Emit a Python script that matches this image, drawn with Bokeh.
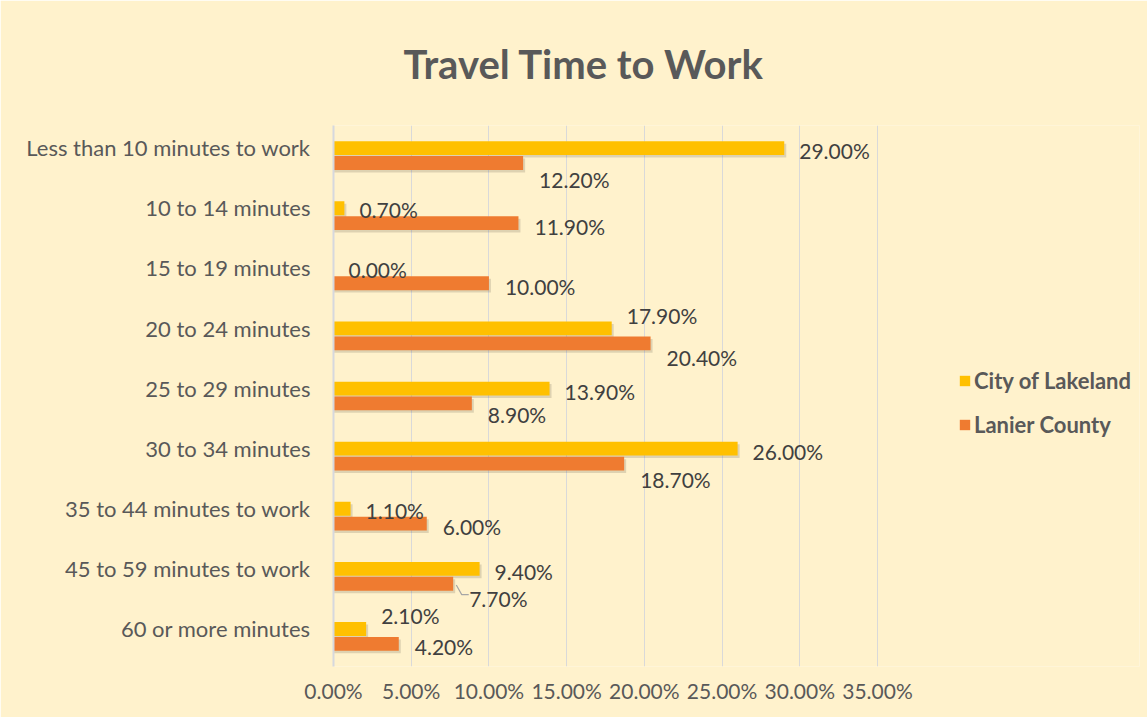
from bokeh.plotting import figure
from bokeh.models import (ColumnDataSource, Legend, LegendItem, FixedTicker,
                          PrintfTickFormatter, Range1d)
from bokeh.core.properties import value
from bokeh.embed import file_html
from bokeh.resources import INLINE

categories = ["Less than 10 minutes to work", "10 to 14 minutes", "15 to 19 minutes",
              "20 to 24 minutes", "25 to 29 minutes", "30 to 34 minutes",
              "35 to 44 minutes to work", "45 to 59 minutes to work", "60 or more minutes"]
lakeland = [29.0, 0.7, 0.0, 17.9, 13.9, 26.0, 1.1, 9.4, 2.1]
lanier = [12.2, 11.9, 10.0, 20.4, 8.9, 18.7, 6.0, 7.7, 4.2]
x_ticks = [0, 5, 10, 15, 20, 25, 30, 35]

# label vertical nudges (pixels, positive = down) imitating Excel's label placement
lak_nudge = [-5, -6, -6, -21, -5, -5, -6, -5, -21]
lan_nudge = [24, 11, 11, 22, 19, 24, 10, 22, 10]

FONT = "Lato"
BG = "#FFF2CC"
W, H = 1147, 717
LEFT, RIGHT_PAD, TOP, BOTTOM = 333, 8, 120, 51
AXIS_PX = 544            # pixel width of the 0..35 % scale
FRAME_W = W - LEFT - RIGHT_PAD
X_MAX = x_ticks[-1]
X_END = X_MAX * FRAME_W / AXIS_PX
ROW_PX = (H - TOP - BOTTOM) / len(categories)
PX_X = X_MAX / AXIS_PX   # data units per pixel (x)

n = len(categories)
ypos = [n - 1 - i for i in range(n)]
OFF = 0.124
BH = 0.23
SH_DX, SH_DY = 2 * PX_X, 2.5 / ROW_PX
LABEL_LIFT = 0.13        # category labels sit slightly above the bar pair centre

src = ColumnDataSource(dict(
    y=ypos,
    y_lak=[y + OFF for y in ypos],
    y_lan=[y - OFF for y in ypos],
    y_lak_sh=[y + OFF - SH_DY for y in ypos],
    y_lan_sh=[y - OFF - SH_DY for y in ypos],
    lak=lakeland, lan=lanier,
    lak_sh=[v + SH_DX if v > 0 else 0 for v in lakeland],
    lan_sh=[v + SH_DX if v > 0 else 0 for v in lanier],
    lak_txt=["%.2f%%" % v for v in lakeland],
    lan_txt=["%.2f%%" % v for v in lanier],
    lak_ly=[y - d / ROW_PX for y, d in zip(ypos, lak_nudge)],
    lan_ly=[y - d / ROW_PX for y, d in zip(ypos, lan_nudge)],
))

p = figure(width=W, height=H, output_backend="svg", toolbar_location=None,
           x_range=Range1d(0, X_END), y_range=Range1d(-0.5, n - 0.5),
           min_border_left=LEFT, min_border_right=RIGHT_PAD, min_border_top=TOP,
           min_border_bottom=BOTTOM)
p.background_fill_color = BG
p.border_fill_color = BG
p.outline_line_color = None

p.title.text = "Travel Time to Work"
p.title.align = "left"
p.title.offset = 70
p.title.text_font = FONT
p.title.text_font_size = "40px"
p.title.text_font_style = "bold"
p.title.text_color = "#595959"
p.title.standoff = 75

# soft shadows under the bars
p.hbar(y="y_lak_sh", right="lak_sh", left=0, height=BH, source=src,
       fill_color="#000000", fill_alpha=0.13, line_color=None)
p.hbar(y="y_lan_sh", right="lan_sh", left=0, height=BH, source=src,
       fill_color="#000000", fill_alpha=0.13, line_color=None)

r_lak = p.hbar(y="y_lak", right="lak", left=0, height=BH, source=src,
               fill_color="#FFC000", line_color=None)
r_lan = p.hbar(y="y_lan", right="lan", left=0, height=BH, source=src,
               fill_color="#EF7B30", line_color=None)

p.text(x="lak", y="lak_ly", text="lak_txt", source=src, x_offset=15,
       text_baseline="middle", text_font=value(FONT), text_font_size="21px",
       text_color="#404040")
p.text(x="lan", y="lan_ly", text="lan_txt", source=src, x_offset=16,
       text_baseline="middle", text_font=value(FONT), text_font_size="21px",
       text_color="#404040")

# leader line for the 7.70% label
i7 = 7
lx = lanier[i7]
ly = ypos[i7] - OFF
p.line(x=[lx + 0.2, lx + 0.55, lx + 1.0], y=[ly - 0.02, ly - 0.18, ly - 0.18],
       line_color="#A6A6A6", line_width=1.2)

# axes
p.xaxis.ticker = FixedTicker(ticks=x_ticks)
p.xaxis.formatter = PrintfTickFormatter(format="%.2f%%")
p.xaxis.axis_line_color = None
p.xaxis.major_tick_line_color = None
p.xaxis.minor_tick_line_color = None
p.xaxis.major_label_text_font = FONT
p.xaxis.major_label_text_font_size = "21px"
p.xaxis.major_label_text_color = "#595959"
p.xaxis.major_label_standoff = 5

ytick = [y + LABEL_LIFT for y in ypos]
p.yaxis.ticker = FixedTicker(ticks=ytick)
p.yaxis.major_label_overrides = {t: c for t, c in zip(ytick, categories)}
p.yaxis.axis_line_color = "#D6D8DE"
p.yaxis.axis_line_width = 2
p.yaxis.major_tick_line_color = None
p.yaxis.minor_tick_line_color = None
p.yaxis.major_label_text_font = FONT
p.yaxis.major_label_text_font_size = "22px"
p.yaxis.major_label_text_color = "#595959"
p.yaxis.major_label_standoff = 17

p.xgrid.grid_line_color = "#D9D9D9"
p.xgrid.grid_line_width = 1
p.ygrid.grid_line_color = None

legend = Legend(items=[LegendItem(label="City of Lakeland", renderers=[r_lak]),
                       LegendItem(label="Lanier County", renderers=[r_lan])],
                location=(958 - LEFT, 228), orientation="vertical")
legend.background_fill_alpha = 0
legend.border_line_color = None
legend.label_text_font = FONT
legend.label_text_font_size = "22px"
legend.label_text_font_style = "bold"
legend.label_text_color = "#595959"
legend.glyph_width = 13
legend.glyph_height = 13
legend.label_standoff = 3
legend.spacing = 17
legend.padding = 0
legend.margin = 0
p.add_layout(legend)

open("out.html", "w").write(file_html(p, INLINE))
